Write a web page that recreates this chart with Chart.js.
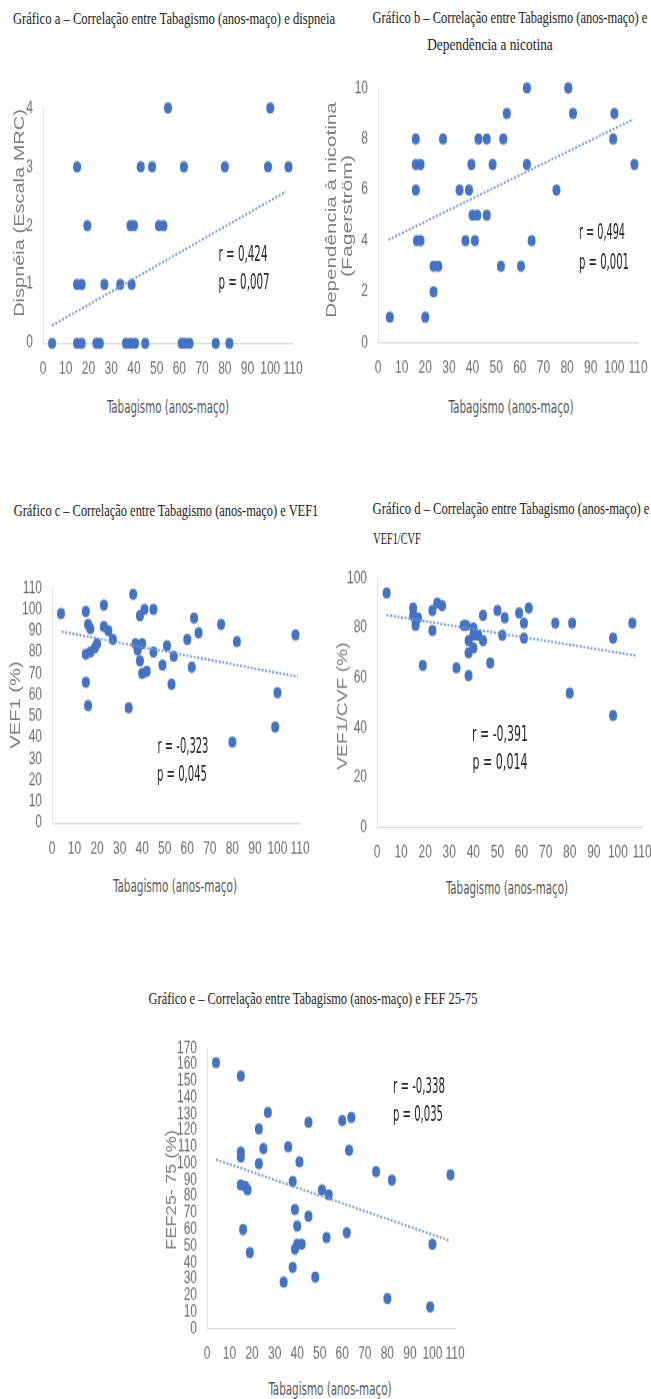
<!DOCTYPE html>
<html>
<head>
<meta charset="utf-8">
<script src="https://cdn.jsdelivr.net/npm/chart.js@4.4.1/dist/chart.umd.min.js"></script>
<style>
html, body { margin: 0; padding: 0; background: #fff; }
#page { position: relative; width: 651px; height: 1399px; overflow: hidden; }
canvas { position: absolute; }
.t { position: absolute; white-space: nowrap; line-height: 1; }
.ttl { font-family: "Liberation Serif", "Times New Roman", serif; font-size: 12px; color: #1a1a1a; }
.xt { font-family: "Liberation Sans Narrow", "Arial Narrow", "DejaVu Sans Condensed", sans-serif; font-size: 13px; color: #595959; }
.yt { font-family: "Liberation Sans", Arial, sans-serif; font-size: 14px; color: #7f7f7f; }
.rp { font-family: "Liberation Sans Narrow", "Arial Narrow", "DejaVu Sans Condensed", sans-serif; font-size: 15px; color: #262626; }
</style>
</head>
<body>
<div id="page">
  <canvas id="chartA"></canvas>
  <canvas id="chartB"></canvas>
  <canvas id="chartC"></canvas>
  <canvas id="chartD"></canvas>
  <canvas id="chartE"></canvas>

  <div class="t ttl" data-x="174" data-y="18" data-w="322">Gráfico a – Correlação entre Tabagismo (anos-maço) e dispneia</div>
  <div class="t ttl" data-x="510" data-y="17" data-w="275">Gráfico b – Correlação entre Tabagismo (anos-maço) e</div>
  <div class="t ttl" data-x="490" data-y="44" data-w="126">Dependência a nicotina</div>
  <div class="t ttl" data-x="166" data-y="510" data-w="305">Gráfico c – Correlação entre Tabagismo (anos-maço) e VEF1</div>
  <div class="t ttl" data-x="511" data-y="508" data-w="277">Gráfico d – Correlação entre Tabagismo (anos-maço) e</div>
  <div class="t ttl" data-x="397" data-y="538" data-w="47">VEF1/CVF</div>
  <div class="t ttl" data-x="313" data-y="998" data-w="329">Gráfico e – Correlação entre Tabagismo (anos-maço) e FEF 25-75</div>

  <div class="t xt" data-x="168" data-y="407" data-w="122">Tabagismo (anos-maço)</div>
  <div class="t xt" data-x="511" data-y="407" data-w="125">Tabagismo (anos-maço)</div>
  <div class="t xt" data-x="175" data-y="886" data-w="124">Tabagismo (anos-maço)</div>
  <div class="t xt" data-x="507" data-y="888" data-w="122">Tabagismo (anos-maço)</div>
  <div class="t xt" data-x="330" data-y="1389" data-w="123">Tabagismo (anos-maço)</div>

  <div class="t yt" data-x="19" data-y="213" data-w="207" data-r="1">Dispnéia (Escala MRC)</div>
  <div class="t yt" data-x="331" data-y="210" data-w="215" data-r="1">Dependência à nicotina</div>
  <div class="t yt" data-x="347" data-y="216" data-w="122" data-r="1">(Fagerström)</div>
  <div class="t yt" data-x="15" data-y="705" data-w="88" data-r="1">VEF1 (%)</div>
  <div class="t yt" data-x="342" data-y="706" data-w="128" data-r="1">VEF1/CVF (%)</div>
  <div class="t yt" data-x="171" data-y="1190" data-w="120" data-r="1">FEF25- 75 (%)</div>

  <div class="t rp" data-x="243" data-y="255" data-w="49">r = 0,424</div>
  <div class="t rp" data-x="244" data-y="283" data-w="51">p = 0,007</div>
  <div class="t rp" data-x="602" data-y="233" data-w="46">r = 0,494</div>
  <div class="t rp" data-x="604" data-y="263" data-w="50">p = 0,001</div>
  <div class="t rp" data-x="183" data-y="747" data-w="51">r = -0,323</div>
  <div class="t rp" data-x="182" data-y="775" data-w="50">p = 0,045</div>
  <div class="t rp" data-x="500" data-y="735" data-w="56">r = -0,391</div>
  <div class="t rp" data-x="500" data-y="763" data-w="55">p = 0,014</div>
  <div class="t rp" data-x="419" data-y="1087" data-w="52">r = -0,338</div>
  <div class="t rp" data-x="418" data-y="1115" data-w="50">p = 0,035</div>
</div>

<script>
// tick labels
const xTicks = [0, 10, 20, 30, 40, 50, 60, 70, 80, 90, 100, 110];
const yTicksA = [0, 1, 2, 3, 4];
const yTicksB = [0, 2, 4, 6, 8, 10];
const yTicksC = [0, 10, 20, 30, 40, 50, 60, 70, 80, 90, 100, 110];
const yTicksD = [0, 20, 40, 60, 80, 100];
const yTicksE = [0, 10, 20, 30, 40, 50, 60, 70, 80, 90, 100, 110, 120, 130, 140, 150, 160, 170];

// a - dispneia
const aX = [55, 100, 15, 43, 48, 62, 80, 99, 108, 19.5, 38.5, 40, 51, 53, 15, 17, 27, 34, 39,
  4, 15, 17, 23.5, 25, 36.5, 38.5, 40.5, 45, 61, 62.5, 64.5, 76, 82];
const aY = [4, 4, 3, 3, 3, 3, 3, 3, 3, 2, 2, 2, 2, 2, 1, 1, 1, 1, 1,
  0, 0, 0, 0, 0, 0, 0, 0, 0, 0, 0, 0, 0, 0];
const aTrendX = [4, 107];
const aTrendY = [0.3, 2.58];

// b - dependencia a nicotina
const bX = [63, 80.5, 54.5, 82.5, 100, 16, 27.5, 42.5, 46, 53, 99.5, 16, 18, 39.5, 48.5, 63, 108.5,
  16, 34.5, 38.5, 75.5, 40, 42, 46, 16.5, 18, 37, 41, 65, 23.5, 25.5, 52, 60.5, 23.5, 5, 20];
const bY = [10, 10, 9, 9, 9, 8, 8, 8, 8, 8, 8, 7, 7, 7, 7, 7, 7,
  6, 6, 6, 6, 5, 5, 5, 4, 4, 4, 4, 4, 3, 3, 3, 3, 2, 1, 1];
const bTrendX = [4.4, 108];
const bTrendY = [4.04, 8.77];

// c - VEF1
const cX = [4, 15, 16, 17, 15, 17, 19, 20, 23, 23, 25, 27, 15, 16, 36, 39, 41, 45, 37, 38,
  40, 39, 40, 42, 45, 49, 51, 54, 53, 60, 63, 65, 62, 75, 82, 108, 34, 80, 100, 99];
const cY = [98, 99, 93, 91, 79, 80, 82, 84, 102, 92, 90, 86, 66, 55, 107, 97, 100, 100, 84, 81,
  84, 76, 70, 71, 80, 74, 83, 78, 65, 86, 96, 89, 73, 93, 85, 88, 54, 38, 61, 45];
const cTrendX = [4.3, 109];
const cTrendY = [89.6, 68.5];

// d - VEF1/CVF
const dX = [4, 15, 15, 16, 17, 16, 23, 23, 25, 27, 19, 33, 38, 36, 37, 40, 38, 40, 38, 40,
  42, 44, 44, 47, 50, 53, 52, 59, 63, 61, 61, 74, 81, 106, 98, 80, 98];
const dY = [94, 88, 85, 83, 84, 81, 87, 79, 90, 89, 65, 64, 61, 81, 81, 80, 75, 77, 70, 72,
  77, 75, 85, 66, 87, 84, 77, 86, 88, 82, 76, 82, 82, 82, 76, 54, 45];
const dTrendX = [4, 108];
const dTrendY = [85.2, 68.9];

// e - FEF 25-75
const eX = [4, 15, 27, 23, 25, 15, 15, 36, 45, 60, 64, 63, 23, 41, 75, 82, 108, 15, 17, 18,
  38, 51, 54, 39, 45, 40, 16, 62, 53, 40, 42, 39, 19, 100, 38, 48, 34, 80, 99];
const eY = [161, 153, 131, 121, 109, 107, 104, 110, 125, 126, 128, 108, 100, 101, 95, 90, 93, 87, 86, 84,
  89, 84, 81, 72, 68, 62, 60, 58, 55, 51, 51, 48, 46, 51, 37, 31, 28, 18, 13];
const eTrendX = [4, 107.3];
const eTrendY = [102.4, 53.4];

// the source picture is stretched vertically, so canvases are drawn short and shown taller
const K = 1.4;
const tickFont = { family: '"Liberation Sans", Arial, sans-serif', size: 12 };

function pairs(xs, ys) {
  return xs.map((x, i) => ({ x, y: ys[i] }));
}

function scatter(id, box, area, xs, ys, tx, ty, yTicks) {
  const cv = document.getElementById(id);
  const hi = Math.round((box.b - box.y) / K);
  cv.width = box.w;
  cv.height = hi;
  cv.style.left = box.x + 'px';
  cv.style.top = box.y + 'px';
  cv.style.width = box.w + 'px';
  cv.style.height = (hi * K) + 'px';

  const padTop = (area.t - box.y) / K;
  const xh = hi - (area.b - box.y) / K;
  const yw = area.l - box.x;
  const padRight = box.x + box.w - area.r;

  new Chart(cv, {
    type: 'scatter',
    data: {
      datasets: [
        {
          data: pairs(tx, ty),
          showLine: true,
          borderColor: '#7096c9',
          borderWidth: 1.6,
          borderDash: [2, 1.6],
          pointRadius: 0,
          clip: false,
          order: 0
        },
        {
          data: pairs(xs, ys),
          backgroundColor: '#4472C4',
          borderWidth: 0,
          pointRadius: 4,
          clip: false,
          order: 1
        }
      ]
    },
    options: {
      responsive: false,
      animation: false,
      devicePixelRatio: 1,
      layout: { padding: { top: padTop, right: padRight, left: 0, bottom: 0 } },
      plugins: { legend: { display: false }, tooltip: { enabled: false } },
      scales: {
        x: {
          type: 'linear',
          min: xTicks[0],
          max: xTicks[xTicks.length - 1],
          grid: { display: false, drawTicks: false },
          border: { color: '#d9d9d9' },
          afterBuildTicks: s => { s.ticks = xTicks.map(v => ({ value: v })); },
          afterFit: s => { s.height = xh; s.paddingLeft = 0; s.paddingRight = 0; },
          ticks: { autoSkip: false, maxRotation: 0, padding: 11, color: '#6b6b6b', font: tickFont }
        },
        y: {
          type: 'linear',
          min: yTicks[0],
          max: yTicks[yTicks.length - 1],
          grid: { display: false, drawTicks: false },
          border: { color: '#e3e3e3' },
          afterBuildTicks: s => { s.ticks = yTicks.map(v => ({ value: v })); },
          afterFit: s => { s.width = yw; s.paddingTop = 0; s.paddingBottom = 0; },
          ticks: { autoSkip: false, padding: 10, color: '#6b6b6b', font: tickFont }
        }
      }
    }
  });
}

scatter('chartA', { x: 0, y: 95, w: 325, b: 385 }, { l: 43, r: 293, t: 108, b: 343 },
  aX, aY, aTrendX, aTrendY, yTicksA);
scatter('chartB', { x: 325, y: 75, w: 326, b: 385 }, { l: 378, r: 638, t: 88, b: 343 },
  bX, bY, bTrendX, bTrendY, yTicksB);
scatter('chartC', { x: 0, y: 575, w: 325, b: 865 }, { l: 52, r: 300, t: 588, b: 823 },
  cX, cY, cTrendX, cTrendY, yTicksC);
scatter('chartD', { x: 325, y: 565, w: 326, b: 870 }, { l: 377, r: 642, t: 578, b: 828 },
  dX, dY, dTrendX, dTrendY, yTicksD);
scatter('chartE', { x: 150, y: 1035, w: 340, b: 1370 }, { l: 207, r: 455, t: 1048, b: 1328 },
  eX, eY, eTrendX, eTrendY, yTicksE);

// place the html labels, squeezed to the widths
document.querySelectorAll('.t').forEach(el => {
  const sx = (+el.dataset.w) / el.offsetWidth;
  el.style.left = el.dataset.x + 'px';
  el.style.top = el.dataset.y + 'px';
  el.style.transform = el.dataset.r === '1'
    ? `translate(-50%,-50%) rotate(-90deg) scale(${sx},1)`
    : `translate(-50%,-50%) scale(${sx},${K})`;
});
</script>
</body>
</html>
